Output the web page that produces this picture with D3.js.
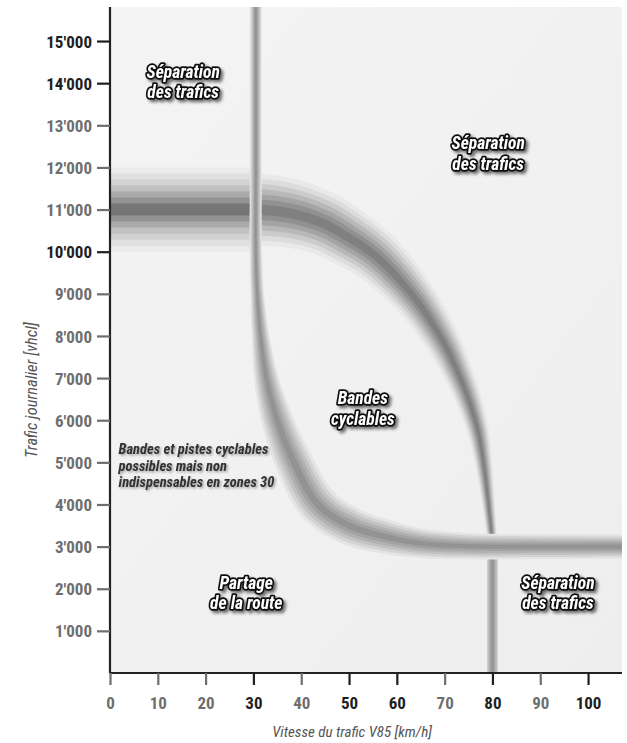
<!DOCTYPE html>
<html><head><meta charset="utf-8">
<script src="https://cdn.jsdelivr.net/npm/d3@7"></script>
<style>
html,body{margin:0;padding:0;background:#fff;}
svg{display:block;}
</style></head><body>
<svg id="chart" width="627" height="743"></svg>
<script>
// ---------------- DATA ----------------
const xTicks = [0,10,20,30,40,50,60,70,80,90,100];
const xTickDark = [30,50,60,80,100];
const yTicks = [1000,2000,3000,4000,5000,6000,7000,8000,9000,10000,11000,12000,13000,14000,15000];
const yTickLabels = ["1'000","2'000","3'000","4'000","5'000","6'000","7'000","8'000","9'000","10'000","11'000","12'000","13'000","14'000","15'000"];
const yTickDark = [10000,14000,15000];

// threshold 11'000 vhcl/j up to 30 km/h (centre line + half spread in vhcl)
const band11000 = [[0,11000],[30.5,11000]];
const band11000Spread = [1000,1000];

// upper threshold curve from (30 km/h, 11'000) down to (80 km/h, ~3'000)
const upperCurve = [[30.5,11000],[35,10960],[40,10850],[45,10650],[50,10330],[55,9950],[60,9400],[65,8710],[70,7800],[72,7330],[75,6500],[77,5730],[78,5100],[79,4200],[80,3100]];
const upperSpread = [860,840,800,750,700,640,570,490,410,370,310,260,215,165,120];

// lower threshold curve: vertical at 30 km/h bending to 3'000 vhcl/j
const lowerCurve = [[30.5,15900],[30.5,12000],[30.5,10000],[30.8,9000],[31.5,8000],[32.7,7000],[35,6000],[38.5,5000],[43.5,4000],[50,3500],[57,3250],[65,3080],[75,3010],[90,3000],[108,3000]];
const lowerSpread = [142,142,145,160,210,290,380,450,480,460,410,350,310,295,290];

// vertical limit at 80 km/h below 3'000
const vertical80 = [[80,0],[80,3000]];
const vertical80Spread = [130,130];

const zoneLabels = [
  {lines:["Séparation","des trafics"], v:15.3, t:14050},
  {lines:["Séparation","des trafics"], v:79.1, t:12350},
  {lines:["Bandes","cyclables"], v:52.9, t:6300},
  {lines:["Partage","de la route"], v:28.5, t:1920},
  {lines:["Séparation","des trafics"], v:93.7, t:1920}
];
const noteLines = ["Bandes et pistes cyclables","possibles mais non","indispensables en zones 30"];
const xTitle = "Vitesse du trafic V85 [km/h]";
const yTitle = "Trafic journalier [vhcl]";

// ---------------- LAYOUT ----------------
const svg = d3.select("#chart");
const X0 = 110, X1 = 622, Y0 = 673, Y1 = 7;
const x = d3.scaleLinear().domain([0,107.1]).range([X0,X1]);
const y = d3.scaleLinear().domain([0,15808]).range([Y0,Y1]);
const narrow = "'Liberation Sans Narrow','Arial Narrow','Roboto Condensed',sans-serif";

const defs = svg.append("defs");
defs.append("clipPath").attr("id","plotClip").append("rect")
  .attr("x",X0).attr("y",Y1).attr("width",X1-X0).attr("height",Y0-Y1);
const f = defs.append("filter").attr("id","shadow").attr("x","-20%").attr("y","-30%").attr("width","150%").attr("height","180%");
f.append("feDropShadow").attr("dx",2.5).attr("dy",2.5).attr("stdDeviation",1.6).attr("flood-color","#000").attr("flood-opacity",0.55);
const f2 = defs.append("filter").attr("id","softshadow").attr("x","-10%").attr("y","-30%").attr("width","130%").attr("height","180%");
f2.append("feDropShadow").attr("dx",1.5).attr("dy",1.5).attr("stdDeviation",1.2).attr("flood-color","#000").attr("flood-opacity",0.35);
const bgGrad = defs.append("linearGradient").attr("id","bgGrad").attr("x1",0).attr("y1",0).attr("x2",1).attr("y2",1);
bgGrad.append("stop").attr("offset",0).attr("stop-color","#f4f4f4");
bgGrad.append("stop").attr("offset",1).attr("stop-color","#eeeeee");

// plot background
svg.append("rect").attr("x",X0).attr("y",Y1).attr("width",X1-X0).attr("height",Y0-Y1).attr("fill","url(#bgGrad)");

const plot = svg.append("g").attr("clip-path","url(#plotClip)");
const pxPerUnit = Math.abs(y(0)-y(1));

const paletteWide = ["#ebebeb","#e0e0e0","#d2d2d2","#c1c1c1","#aaaaaa","#939393","#767676"];
const paletteCurve = ["#e9e9e9","#dcdcdc","#cbcbcb","#b8b8b8","#a4a4a4","#919191","#808080"];
const paletteLower = ["#e4e4e4","#d3d3d3","#c2c2c2","#b1b1b1","#a2a2a2","#939393"];
const paletteThin = ["#cdcdcd","#b8b8b8","#a6a6a6","#989898"];

function drawBand(pts, spreads, palette){
  const line = d3.line().x(d=>x(d[0])).y(d=>y(d[1])).curve(d3.curveCatmullRom.alpha(0.5));
  const tmp = svg.append("path").attr("d", line(pts)).attr("fill","none").attr("stroke","none");
  const node = tmp.node();
  const L = node.getTotalLength();
  const pp = pts.map(d=>[x(d[0]),y(d[1])]);
  const cum=[0];
  for(let i=1;i<pp.length;i++) cum.push(cum[i-1]+Math.hypot(pp[i][0]-pp[i-1][0],pp[i][1]-pp[i-1][1]));
  const C = cum[cum.length-1];
  const N = 500;
  const samples=[];
  for(let i=0;i<=N;i++){ const p=node.getPointAtLength(L*i/N); samples.push([p.x,p.y]); }
  tmp.remove();
  const spreadAt = frac => {
    const c = frac*C;
    let j=1; while(j<cum.length-1 && cum[j]<c) j++;
    const t = (c-cum[j-1])/((cum[j]-cum[j-1])||1);
    return (spreads[j-1]+(spreads[j]-spreads[j-1])*Math.max(0,Math.min(1,t)))*pxPerUnit;
  };
  const normals = samples.map((p,i)=>{
    const a = samples[Math.max(0,i-1)], b = samples[Math.min(N,i+1)];
    const dx=b[0]-a[0], dy=b[1]-a[1], l=Math.hypot(dx,dy)||1;
    return [-dy/l, dx/l];
  });
  const n = palette.length;
  palette.forEach((col,k)=>{
    const left=[], right=[];
    samples.forEach((p,i)=>{
      const hw = spreadAt(i/N)*(n-k)/n;
      left.push([p[0]+normals[i][0]*hw, p[1]+normals[i][1]*hw]);
      right.push([p[0]-normals[i][0]*hw, p[1]-normals[i][1]*hw]);
    });
    plot.append("path").attr("d", d3.line()(left.concat(right.reverse()))+"Z").attr("fill",col);
  });
}

drawBand(band11000, band11000Spread, paletteWide);
drawBand(upperCurve, upperSpread, paletteCurve);
drawBand(vertical80, vertical80Spread, paletteThin);
drawBand(lowerCurve, lowerSpread, paletteLower);

// ---------------- AXES ----------------
const xAxis = svg.append("g").attr("transform",`translate(0,${Y0})`)
  .call(d3.axisBottom(x).tickValues(xTicks).tickSize(12).tickSizeOuter(0).tickPadding(12).tickFormat(d3.format("d")));
const yAxis = svg.append("g").attr("transform",`translate(${X0},0)`)
  .call(d3.axisLeft(y).tickValues(yTicks).tickSize(13).tickSizeOuter(0).tickPadding(5).tickFormat((d,i)=>yTickLabels[i]));
[xAxis,yAxis].forEach(g=>{
  g.select(".domain").attr("stroke","#222").attr("stroke-width",2.2);
  g.selectAll(".tick line").attr("stroke-width",2.2);
  g.selectAll(".tick text").attr("font-family",narrow).attr("font-weight","bold").attr("font-size",17);
});
xAxis.selectAll(".tick").each(function(d){
  const c = xTickDark.includes(d) ? "#1e1e1e" : "#6e6e6e";
  d3.select(this).select("line").attr("stroke",c);
  d3.select(this).select("text").attr("fill",c);
});
yAxis.selectAll(".tick").each(function(d){
  const c = yTickDark.includes(d) ? "#1e1e1e" : "#6e6e6e";
  d3.select(this).select("line").attr("stroke",c);
  d3.select(this).select("text").attr("fill",c).attr("dy","0.36em");
});
xAxis.select(".domain").attr("d",`M${X0},0H${X1}`);
yAxis.select(".domain").attr("d",`M0,${Y1}V${Y0}`);

svg.append("text").attr("x",352).attr("y",737).attr("text-anchor","middle")
  .attr("font-family",narrow).attr("font-style","italic").attr("font-size",15).attr("fill","#555").text(xTitle);
svg.append("text").attr("transform",`translate(37,390) rotate(-90)`).attr("text-anchor","middle")
  .attr("font-family",narrow).attr("font-style","italic").attr("font-size",16.5).attr("fill","#555").text(yTitle);

// ---------------- LABELS ----------------
zoneLabels.forEach(lab=>{
  const g = svg.append("g").attr("filter","url(#shadow)");
  const t = g.append("text").attr("x",x(lab.v)).attr("y",y(lab.t)).attr("text-anchor","middle")
    .attr("font-family",narrow).attr("font-weight","bold").attr("font-style","italic").attr("font-size",17.5)
    .attr("fill","#fff").attr("stroke","#111").attr("stroke-width",3.4).attr("stroke-linejoin","round")
    .style("paint-order","stroke");
  lab.lines.forEach((s,i)=>t.append("tspan").attr("x",x(lab.v)).attr("dy", i===0 ? "-0.2em" : "1.17em").text(s));
});
const note = svg.append("text").attr("x",x(1.8)).attr("y",y(5200)).attr("filter","url(#softshadow)")
  .attr("font-family",narrow).attr("font-weight","bold").attr("font-style","italic").attr("font-size",14.5).attr("fill","#333");
noteLines.forEach((s,i)=>note.append("tspan").attr("x",x(1.8)).attr("dy", i===0 ? 0 : "1.15em").text(s));
</script>
</body></html>
